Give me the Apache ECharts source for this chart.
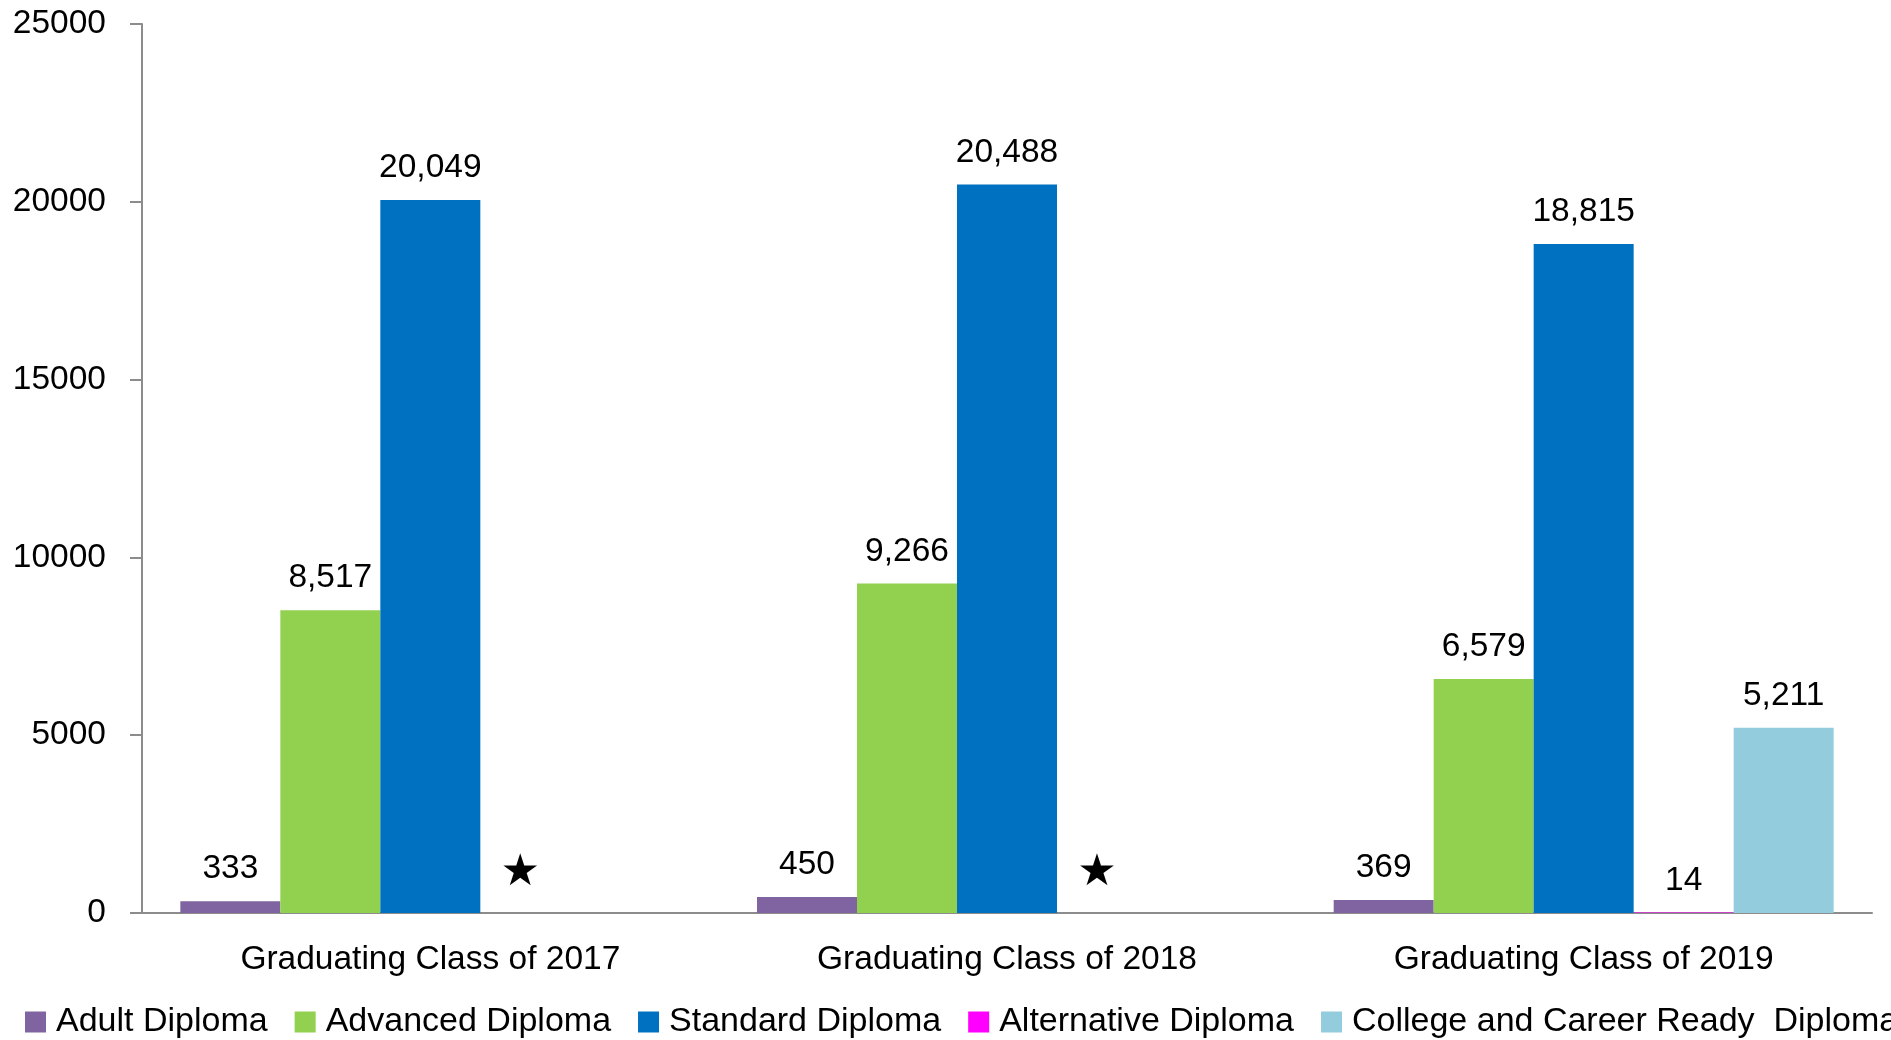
<!DOCTYPE html>
<html>
<head>
<meta charset="utf-8">
<script src="https://cdn.jsdelivr.net/npm/echarts@6/dist/echarts.min.js"></script>
<style>
html,body{margin:0;padding:0;background:#fff;}
#chart{width:1891px;height:1040px;}
</style>
</head>
<body>
<div id="chart"></div>
<script>
var categories = ['Graduating Class of 2017', 'Graduating Class of 2018', 'Graduating Class of 2019'];
var seriesNames = ['Adult Diploma', 'Advanced Diploma', 'Standard Diploma', 'Alternative Diploma', 'College and Career Ready  Diploma'];
var adultDiploma = [333, 450, 369];
var advancedDiploma = [8517, 9266, 6579];
var standardDiploma = [20049, 20488, 18815];
var alternativeDiploma = [0, 0, 14];
var alternativeLabels = ['★', '★', '14'];
var collegeCareerDiploma = [null, null, 5211];
var yTicks = [0, 5000, 10000, 15000, 20000, 25000];

var colors = ['#8064A2', '#92D050', '#0070C0', '#FF00FF', '#93CDDD'];
var FONT = 'Liberation Sans';
var FS = 33.5;

function fmt(v) { return Number(v).toLocaleString('en-US'); }

var labelBase = {
  show: true, position: 'top', distance: 15,
  color: '#000', fontFamily: FONT, fontSize: FS,
  formatter: function (p) { return p.value == null ? '' : fmt(p.value); }
};

function mk(name, data, color, label) {
  return {
    name: name, type: 'bar', data: data,
    barGap: 0, barCategoryGap: '13.3%',
    itemStyle: { color: color },
    label: label || labelBase,
    emphasis: { disabled: true },
    animation: false
  };
}

var chart = echarts.init(document.getElementById('chart'), null, { renderer: 'canvas' });
chart.setOption({
  animation: false,
  color: colors,
  grid: { left: 142, right: 19, top: 24, bottom: 127, containLabel: false },
  legend: {
    left: 20, top: 1000, width: 3000,
    itemWidth: 21, itemHeight: 21, itemGap: 27,
    icon: 'rect',
    textStyle: { fontFamily: FONT, fontSize: 34, color: '#000', padding: [0, 0, 0, 5] },
    data: seriesNames
  },
  xAxis: {
    type: 'category', data: categories,
    axisLine: { lineStyle: { color: '#8c8c8c', width: 2 } },
    axisTick: { show: false },
    axisLabel: { color: '#000', fontFamily: FONT, fontSize: FS, margin: 30 },
    splitLine: { show: false }
  },
  yAxis: {
    type: 'value', min: yTicks[0], max: yTicks[yTicks.length - 1], interval: yTicks[1] - yTicks[0],
    axisLine: { show: true, lineStyle: { color: '#8c8c8c', width: 2 } },
    axisTick: { show: true, length: 12, lineStyle: { color: '#8c8c8c', width: 2 } },
    axisLabel: { color: '#000', fontFamily: FONT, fontSize: FS, margin: 36, formatter: function (v) { return String(v); } },
    splitLine: { show: false }
  },
  series: [
    mk(seriesNames[0], adultDiploma, colors[0]),
    mk(seriesNames[1], advancedDiploma, colors[1]),
    mk(seriesNames[2], standardDiploma, colors[2]),
    mk(seriesNames[3], alternativeDiploma, colors[3], {
      show: true, position: 'top', distance: 15,
      color: '#000', fontFamily: FONT, fontSize: FS,
      formatter: function (p) {
        var s = alternativeLabels[p.dataIndex];
        return s === '★' ? '{star|★}' : s;
      },
      rich: { star: { fontSize: 44, fontFamily: 'DejaVu Sans', color: '#000', padding: [0, 20, 2, 0] } }
    }),
    mk(seriesNames[4], collegeCareerDiploma, colors[4])
  ]
});
</script>
</body>
</html>
